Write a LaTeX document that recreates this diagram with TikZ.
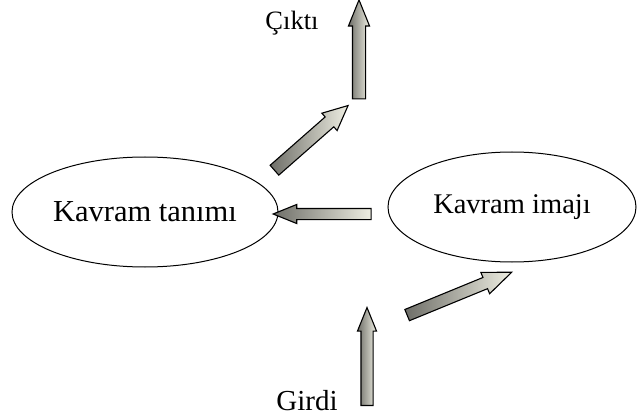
\documentclass[tikz,border=0pt]{standalone}
\usepackage{fontspec}
\setmainfont{Liberation Serif}
\usetikzlibrary{shapes.geometric,shapes.arrows}
\definecolor{okacik}{RGB}{238,238,226}
\definecolor{okorta}{RGB}{205,205,194}
\definecolor{okkoyu}{RGB}{110,110,104}

\begin{document}
\begin{tikzpicture}[x=1pt,y=1pt,
  yazi/.style={font=\fontsize{#1}{34}\selectfont},
  kavram/.style={draw,ellipse,line width=1pt,inner sep=0pt},
  blok/.style={single arrow,draw,line width=1.1pt,inner xsep=0pt,inner ysep=6pt,
    single arrow head extend=4pt,single arrow tip angle=44,
    left color=okkoyu,middle color=okorta,right color=okacik}]
\useasboundingbox (0,0) rectangle (638,416);
\node[kavram,yazi=30.5,minimum width=266pt,minimum height=110pt] (tanim) at (145,204) {Kavram tanımı};
\node[kavram,yazi=28.5,minimum width=248pt,minimum height=110pt] (imaj) at (512,209) {Kavram imajı};
\node[yazi=26.5,anchor=base] (cikti) at (292,386) {Çıktı};
\node[yazi=29,anchor=base] (girdi) at (307,5.5) {Girdi};
\node[blok,minimum height=99pt,rotate=90] (okcikti) at (359,358.5) {};
\node[blok,minimum height=98pt,rotate=41.3,single arrow head extend=5pt,single arrow tip angle=50] (oktanim) at (306,273.5) {};
\node[blok,minimum height=98pt,rotate=180,inner ysep=5pt] (okimaj) at (329,202) {};
\node[blok,minimum height=98pt,rotate=90,inner ysep=5.5pt,single arrow head extend=3.5pt] (okgirdi) at (367,52) {};
\node[blok,minimum height=113pt,rotate=22.3,inner ysep=5.5pt,single arrow head extend=5.5pt] (okalt) at (452.5,119.5) {};
\end{tikzpicture}
\end{document}
